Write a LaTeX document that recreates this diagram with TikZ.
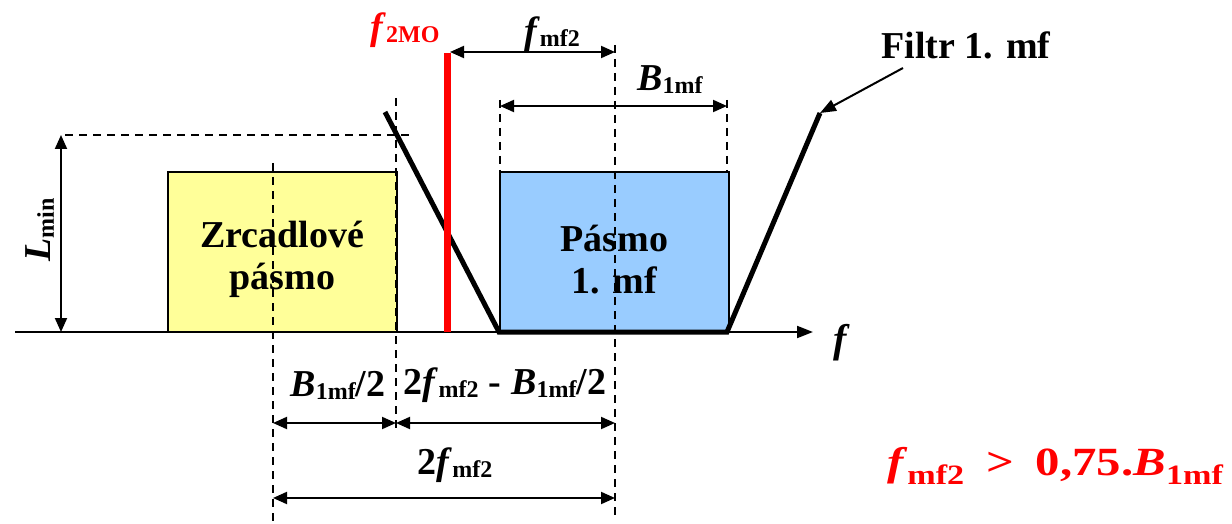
\documentclass[tikz,border=0pt]{standalone}
\usepackage{fontspec}
\setmainfont{Liberation Serif}
\usetikzlibrary{arrows.meta}
\definecolor{MirrorYellow}{HTML}{FFFF99}
\definecolor{PassBlue}{HTML}{99CCFF}
\definecolor{MarkRed}{HTML}{FF0000}
\newcommand\idx[1]{\raisebox{-1.5pt}{\fontsize{12}{12}\selectfont #1}}
\newcommand\bigidx[1]{\raisebox{-4.5pt}{\fontsize{14}{14}\selectfont #1}}
\tikzset{
  lbl/.style={font=\fontsize{19}{21}\selectfont\bfseries,inner sep=1pt},
  dimline/.style={{Triangle[length=7pt,width=6pt]}-{Triangle[length=7pt,width=6pt]},line width=1pt},
  guide/.style={line width=.6pt,dash pattern=on 4pt off 3pt},
  band/.style={draw,line width=.75pt,minimum width=114.5pt,minimum height=79.5pt,anchor=south west,inner sep=0pt}
}

\begin{document}
\begin{tikzpicture}[x=.5pt,y=-.5pt]
  \useasboundingbox (0,0) rectangle (1232,524);
  % bands
  \node[band,fill=MirrorYellow] (mirror) at (167,332) {};
  \node[band,fill=PassBlue] (pass) at (499,332) {};
  \node[lbl,align=center] (mirrortxt) at ([yshift=-4pt]mirror.center) {Zrcadlové\\pásmo};
  \node[lbl,align=center] (passtxt) at ([yshift=-4pt]pass.center) {Pásmo\\1. mf};
  % guides
  \foreach \x/\a/\b in {273/163/524,396/98/430,615/45/520,500/100/173,727/100/173}{\draw[guide] (\x,\a)--(\x,\b);}
  \coordinate (lvl) at (65,135); \coordinate (lvlend) at (412,135);
  \draw[guide] (lvl)--(lvlend);
  % axis
  \coordinate (o) at (15,332); \coordinate (fend) at (813,332);
  \draw[line width=1pt,-{Triangle[length=8pt,width=6pt]}] (o)--(fend);
  \node[lbl,font=\fontsize{20}{21}\selectfont\bfseries\itshape] (faxis) at (840,343) {f};
  % filter
  \coordinate (fl1) at (385,112); \coordinate (fl2) at (499,332);
  \coordinate (fr2) at (727,332); \coordinate (fr1) at (820,113);
  \draw[line width=2.5pt] (fl1)--(fl2)--(fr2)--(fr1);
  \coordinate (lo0) at (447,332); \coordinate (lo1) at (447,53);
  \draw[MarkRed,line width=3.5pt] (lo0)--(lo1);
  \node[lbl,text=MarkRed] (fmo) at (405,30) {\textit{f}\idx{2MO}};
  % dimensions
  \coordinate (lm0) at (61,332); \coordinate (lm1) at (61,135);
  \draw[dimline] (lm0)--(lm1);
  \node[lbl,rotate=90] (lmin) at (40,230) {\textit{L}\idx{min}};
  \coordinate (fa) at (450,52); \coordinate (fb) at (615,52);
  \draw[dimline] (fa)--(fb);
  \node[lbl] (fmf) at (552,34) {\textit{f}\idx{mf2}};
  \coordinate (ba) at (500,106); \coordinate (bb) at (727,106);
  \draw[dimline] (ba)--(bb);
  \node[lbl] (bmf) at (670,80) {\textit{B}\idx{1mf}};
  \coordinate (d1) at (273,423); \coordinate (d2) at (396,423); \coordinate (d3) at (615,423);
  \draw[dimline] (d1)--(d2); \draw[dimline] (d2)--(d3);
  \node[lbl] (half) at (338,385) {\textit{B}\idx{1mf}/2};
  \node[lbl] (rest) at (505,385) {2\textit{f}\idx{mf2}\hspace{5pt}-\hspace{5pt}\textit{B}\idx{1mf}/2};
  \coordinate (e1) at (273,498); \coordinate (e2) at (615,498);
  \draw[dimline] (e1)--(e2);
  \node[lbl] (twof) at (455,465) {2\textit{f}\idx{mf2}};
  % filter label
  \node[lbl] (filtr) at (966,45) {Filtr 1. mf};
  \coordinate (ptr) at (903,68);
  \draw[line width=1pt,-{Triangle[length=8pt,width=6pt]}] (ptr)--(fr1);
  \node[lbl,text=MarkRed,font=\fontsize{20}{22}\selectfont\bfseries] (cond) at (1055,466) {\scalebox{1.22}[1]{\textit{f}\bigidx{mf2}\hspace{9pt}>\hspace{9pt}0,75.\textit{B}\bigidx{1mf}}};
\end{tikzpicture}
\end{document}
